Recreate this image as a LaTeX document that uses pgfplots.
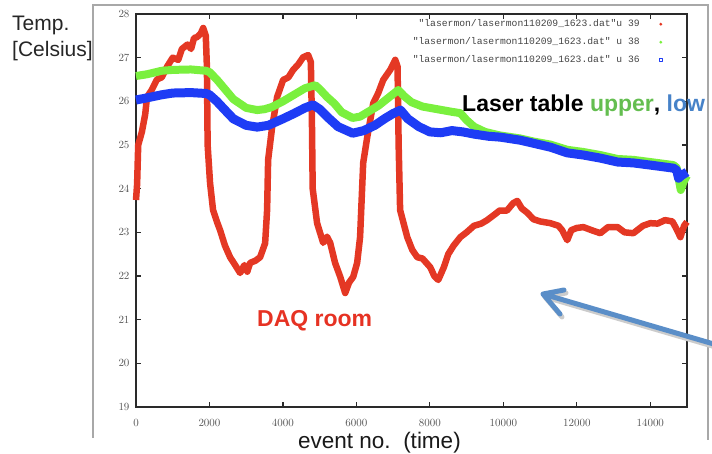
\documentclass[border=0pt]{standalone}
\usepackage{pgfplots}
\pgfplotsset{compat=1.18}
\usepackage{fontspec}
\setmainfont{Liberation Sans}
\setmonofont{Liberation Mono}
\definecolor{cred}{HTML}{E43824}
\definecolor{cgreen}{HTML}{7AF03E}
\definecolor{cblue}{HTML}{1E3CF5}
\definecolor{txtgreen}{HTML}{64BE50}
\definecolor{txtblue}{HTML}{4682C8}
\definecolor{daqred}{HTML}{E63223}
\definecolor{arrowblue}{HTML}{5A8EC8}
\definecolor{framegray}{HTML}{A8A8A8}
\definecolor{axisgray}{HTML}{2A2A2A}
\definecolor{tickgray}{HTML}{555555}
\definecolor{legendgray}{HTML}{444444}
\begin{document}
\begin{tikzpicture}[x=1pt,y=1pt]
\useasboundingbox (0,0) rectangle (712,453);
\clip (0,0) rectangle (712,453);
\draw[color=framegray, line width=1.2pt] (93,15) -- (93,448) -- (708,448) -- (708,13);
\begin{axis}[
  at={(136pt,46pt)}, anchor=south west,
  scale only axis, width=551pt, height=393pt,
  xmin=0, xmax=15000, ymin=19, ymax=28,
  xtick={0,2000,...,14000}, ytick={19,20,...,28},
  scaled x ticks=false,
  xticklabel style={/pgf/number format/1000 sep={}, yshift=-9pt},
  yticklabel style={xshift=-3pt},
  tick label style={font=\fontsize{10.5}{12}\selectfont, text=tickgray},
  axis line style={line width=1.5pt, draw=axisgray},
  major tick length=5pt,
  tick style={line width=1.2pt, draw=axisgray},
  clip=false,
  legend style={at={(1,1)}, anchor=north east, xshift=-21pt, yshift=-5.5pt,
    draw=none, fill=none, inner sep=0pt,
    font=\fontsize{9.7}{10}\selectfont\ttfamily, text=legendgray,
    row sep=9pt, column sep=0pt,
    nodes={inner sep=0pt, text height=7pt, text depth=2pt}},
  legend cell align=right, legend plot pos=right,
  every axis plot/.append style={line join=round},
]
\addplot[cred, line width=6.5pt,
  legend image code/.code={\path[draw=none,fill=none] (0pt,0pt) -- (26pt,0pt); \fill[cred, draw=none] (21pt,0pt) circle (1.6pt);}]
table {
x y
0 23.74
30 24.1
60 25.0
160 25.3
250 25.7
300 26.1
420 26.25
570 26.5
700 26.55
850 26.8
1000 27.0
1150 26.95
1250 27.2
1400 27.3
1500 27.2
1580 27.45
1660 27.47
1760 27.55
1830 27.68
1900 27.5
1930 26.8
1950 25.0
2016 24.13
2098 23.51
2200 23.25
2289 23.05
2420 22.7
2561 22.43
2700 22.25
2834 22.07
2950 22.25
3030 22.1
3106 22.3
3250 22.35
3379 22.43
3515 22.75
3569 23.51
3597 24.66
3706 25.41
3842 26.10
4005 26.49
4150 26.55
4278 26.72
4420 26.85
4550 27.01
4687 27.06
4760 26.9
4790 25.5
4810 24.0
4930 23.21
5095 22.76
5200 22.9
5286 22.76
5420 22.3
5560 21.98
5695 21.61
5800 21.85
5913 21.98
6020 22.3
6100 22.89
6185 24.59
6295 25.18
6460 25.96
6600 26.2
6730 26.49
6920 26.72
7057 26.95
7120 26.8
7150 25.0
7190 23.51
7384 22.89
7520 22.6
7657 22.43
7800 22.4
8011 22.2
8120 22.0
8229 21.91
8380 22.2
8500 22.5
8650 22.7
8830 22.89
9000 23.0
9200 23.15
9400 23.2
9560 23.28
9750 23.4
9900 23.5
10100 23.5
10270 23.67
10380 23.72
10500 23.55
10650 23.45
10820 23.3
11000 23.25
11280 23.21
11500 23.15
11600 23.05
11740 22.82
11850 23.05
12000 23.1
12180 23.12
12400 23.05
12640 22.98
12850 23.12
13110 23.12
13300 23.0
13540 22.98
13800 23.15
14000 23.21
14200 23.2
14400 23.28
14600 23.25
14700 23.1
14820 22.89
14920 23.15
15000 23.24
};
\addlegendentry{"lasermon/lasermon110209\_1623.dat"u 39}
\addplot[cgreen, line width=8pt,
  legend image code/.code={\path[draw=none,fill=none] (0pt,0pt) -- (26pt,0pt); \fill[cgreen, draw=none] (21pt,0pt) circle (1.6pt);}]
table {
x y
0 26.58
300 26.62
700 26.70
1000 26.72
1500 26.73
1900 26.70
2000 26.67
2200 26.5
2400 26.3
2650 26.05
3000 25.85
3300 25.8
3500 25.82
3700 25.87
4000 26.0
4300 26.15
4600 26.3
4880 26.37
5000 26.28
5200 26.1
5400 25.95
5600 25.75
5900 25.62
6100 25.65
6300 25.75
6600 25.9
6900 26.1
7140 26.26
7300 26.12
7500 25.98
7800 25.88
8200 25.82
8600 25.76
8830 25.73
9000 25.57
9200 25.42
9500 25.30
9900 25.22
10460 25.15
10820 25.08
11280 25.01
11740 24.89
12180 24.84
12640 24.77
13110 24.68
13540 24.66
14000 24.61
14630 24.54
14720 24.48
14780 24.2
14830 23.97
14900 24.15
15000 24.3
};
\addlegendentry{"lasermon/lasermon110209\_1623.dat" u 38}
\addplot[cblue, line width=9pt,
  legend image code/.code={\path[draw=none,fill=none] (0pt,0pt) -- (26pt,0pt); \draw[cblue, fill=none, line width=0.8pt] (19.4pt,-1.6pt) rectangle (22.6pt,1.6pt);}]
table {
x y
0 26.03
300 26.08
700 26.15
1000 26.19
1500 26.2
1900 26.18
2000 26.15
2200 26.0
2400 25.82
2650 25.6
3000 25.45
3300 25.41
3600 25.45
4000 25.6
4300 25.72
4600 25.85
4820 25.92
5000 25.82
5200 25.65
5500 25.42
5900 25.27
6200 25.33
6500 25.45
6800 25.62
7000 25.72
7200 25.8
7400 25.6
7700 25.42
8000 25.3
8300 25.28
8600 25.33
8900 25.3
9200 25.25
9600 25.2
9918 25.18
10460 25.11
10820 25.04
11280 24.95
11740 24.82
12180 24.77
12640 24.70
13110 24.61
13540 24.59
14000 24.54
14630 24.47
14720 24.42
14770 24.24
14850 24.3
15000 24.38
};
\addlegendentry{"lasermon/lasermon110209\_1623.dat" u 36}
\end{axis}
% annotations
\node[anchor=base west, inner sep=0pt, text=black!85, font=\fontsize{21}{24}\selectfont] at (12,422) {Temp.};
\node[anchor=base west, inner sep=0pt, text=black!85, font=\fontsize{21}{24}\selectfont] at (12,396) {[Celsius]};
\node[anchor=base west, inner sep=0pt, text=black!90, font=\fontsize{22.5}{26}\selectfont] at (298,5) {event no.\ \ (time)};
\node[anchor=base west, inner sep=0pt, font=\bfseries\fontsize{23}{26}\selectfont] at (462,341) {Laser table \textcolor{txtgreen}{upper}, \textcolor{txtblue}{low}};
\node[anchor=base west, inner sep=0pt, text=daqred, font=\bfseries\fontsize{23}{26}\selectfont] at (257,127) {DAQ room};
% arrow with shadow
\begin{scope}[line width=5pt, line cap=round, line join=round]
\draw[black!20, shift={(2,-3)}] (724,106) -- (543,159) (564,163) -- (543,159) -- (560,139);
\draw[arrowblue] (724,106) -- (543,159) (564,163) -- (543,159) -- (560,139);
\end{scope}
\end{tikzpicture}
\end{document}
